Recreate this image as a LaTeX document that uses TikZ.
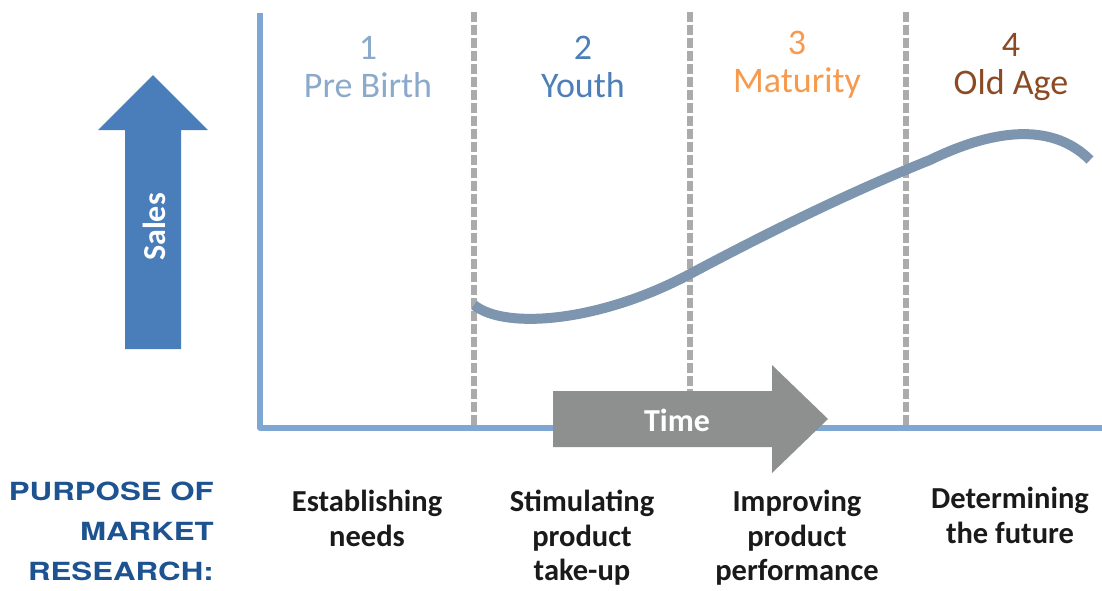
\documentclass[tikz,border=0pt]{standalone}
\usepackage{fontspec}
\setmainfont{Carlito}
\newfontfamily\purposefont[FakeStretch=1.25]{TeX Gyre Heros}
\definecolor{axisblue}{HTML}{7FA7D3}
\definecolor{dashgray}{HTML}{ABABAB}
\definecolor{salesblue}{HTML}{4A7EBB}
\definecolor{timegray}{HTML}{8E9090}
\definecolor{curvecol}{HTML}{7D95AE}
\definecolor{stageA}{HTML}{8BAACB}
\definecolor{stageB}{HTML}{4D7FB8}
\definecolor{stageC}{HTML}{F59A4E}
\definecolor{stageD}{HTML}{8B4A23}
\definecolor{purposeblue}{HTML}{1D5390}
\definecolor{bodytext}{HTML}{1A1A1A}
\begin{document}
\begin{tikzpicture}[x=1pt,y=-1pt,
  axisline/.style={draw=axisblue,line width=5.5pt},
  divider/.style={draw=dashgray,line width=6pt,dash pattern=on 10pt off 3pt},
  stagelabel/.style={font=\fontsize{36}{38}\selectfont,align=center,inner sep=0pt},
  purposetext/.style={font=\fontsize{30.5}{34.5}\selectfont\bfseries,text=bodytext,align=center,inner sep=0pt,anchor=north},
  arrowtext/.style={font=\fontsize{32}{34}\selectfont\bfseries,text=white,inner sep=0pt}]
\useasboundingbox (0,0) rectangle (1102,590);
% dividers
\coordinate (d1t) at (474,12); \coordinate (d1b) at (474,426);
\coordinate (d2t) at (690,12); \coordinate (d2b) at (690,426);
\coordinate (d3t) at (906,12); \coordinate (d3b) at (906,426);
\draw[divider] (d1t) -- (d1b);
\draw[divider] (d2t) -- (d2b);
\draw[divider] (d3t) -- (d3b);
% axes
\coordinate (ytop) at (260,13);
\coordinate (origin) at (260,428);
\coordinate (xend) at (1102,428);
\draw[axisline,line join=round] (ytop) -- (origin) -- (xend);
% curve
\coordinate (c0) at (474,305);
\coordinate (c1) at (690,274);
\coordinate (c2) at (930,160);
\coordinate (c3) at (1090,160);
\draw[curvecol,line width=10pt] (c0) .. controls (505,330) and (600,322) .. (c1)
  .. controls (780,226) and (860,188) .. (c2)
  .. controls (1000,126) and (1055,125) .. (c3);
% Sales arrow
\fill[salesblue] (125,349) -- (125,130) -- (98,130) -- (153,75) -- (208,130) -- (181,130) -- (181,349) -- cycle;
\node[arrowtext,rotate=90] (sales) at (154,227) {Sales};
% Time arrow
\fill[timegray] (553,391) -- (772,391) -- (772,365) -- (828,419) -- (772,473) -- (772,447) -- (553,447) -- cycle;
\node[arrowtext] (time) at (677,420) {Time};
% stage labels
\node[stagelabel,text=stageA] (s1) at (368,67) {1\\Pre Birth};
\node[stagelabel,text=stageB] (s2) at (583,67) {2\\Youth};
\node[stagelabel,text=stageC] (s3) at (797,65) {3\\Maturity};
\node[stagelabel,text=stageD] (s4) at (1011,67) {4\\Old Age};
% purpose
\node[font=\purposefont\fontsize{25}{40}\selectfont\bfseries,text=purposeblue,align=right,anchor=north east,inner sep=0pt] (purpose) at (214,482) {PURPOSE OF\\MARKET\\RESEARCH:};
\node[purposetext] (p1) at (367,490) {Establishing\\needs};
\node[purposetext] (p2) at (582,490) {Stimulating\\product\\take-up};
\node[purposetext] (p3) at (797,490) {Improving\\product\\performance};
\node[purposetext] (p4) at (1010,487) {Determining\\the future};
\end{tikzpicture}
\end{document}
